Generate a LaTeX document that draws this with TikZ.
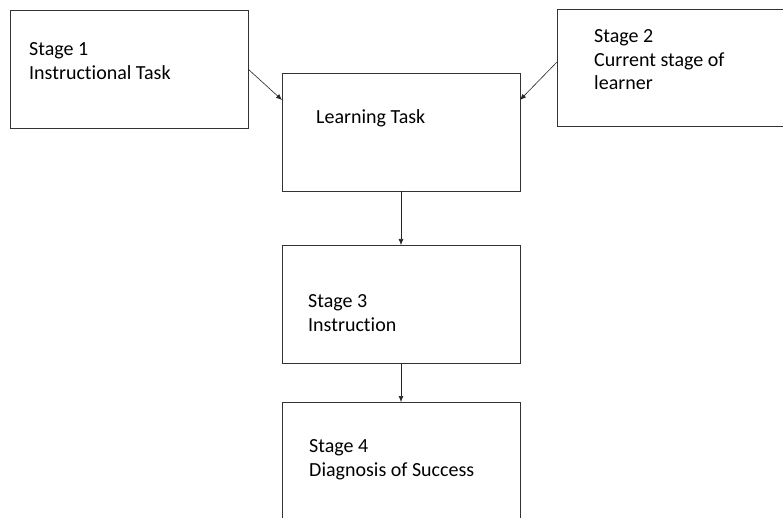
\documentclass[tikz,border=0pt]{standalone}
\usepackage{fontspec}
\setmainfont{Carlito}[Ligatures=NoCommon]
\usetikzlibrary{positioning,arrows.meta}

\begin{document}
\begin{tikzpicture}[
	x=1pt, y=-1pt,
	box/.style={rectangle, draw=black!80, line width=0.7pt, fill=white, minimum width=238pt, minimum height=118pt, inner sep=0pt, outer sep=0pt},
	txt/.style={anchor=base west, align=left, inner sep=0pt, font=\fontsize{20}{23.5}\selectfont},
	arrow/.style={-{Latex[length=6pt,width=5pt]}, line width=0.6pt, draw=black!85}
]
\useasboundingbox (0,0) rectangle (783,518);
\node (stage1) [box, anchor=north west] at (10,10) {};
\node (stage2) [box, anchor=north west, minimum width=240pt, minimum height=117pt] at (557,9) {};
\node (learn) [box, anchor=north west] at (282,73) {};
\node (stage3) [box, below=54pt of learn] {};
\node (stage4) [box, below=39pt of stage3] {};
\node (t1) [txt] at ([shift={(19pt,-69.5pt)}]stage1.north west) {Stage 1\\Instructional Task};
\node (t2) [txt] at ([shift={(37pt,-81pt)}]stage2.north west) {Stage 2\\Current stage of\\learner};
\node (tl) [txt] at ([shift={(34pt,-51pt)}]learn.north west) {Learning Task};
\node (t3) [txt] at ([shift={(26pt,-86pt)}]stage3.north west) {Stage 3\\Instruction};
\node (t4) [txt] at ([shift={(27pt,-74pt)}]stage4.north west) {Stage 4\\Diagnosis of Success};
\draw [arrow] (stage1.east) -- ([yshift=-27pt]learn.north west);
\draw [arrow] ([yshift=5.5pt]stage2.west) -- ([yshift=-27pt]learn.north east);
\draw [arrow] (learn) -- (stage3);
\draw [arrow] (stage3) -- (stage4);
\end{tikzpicture}
\end{document}
